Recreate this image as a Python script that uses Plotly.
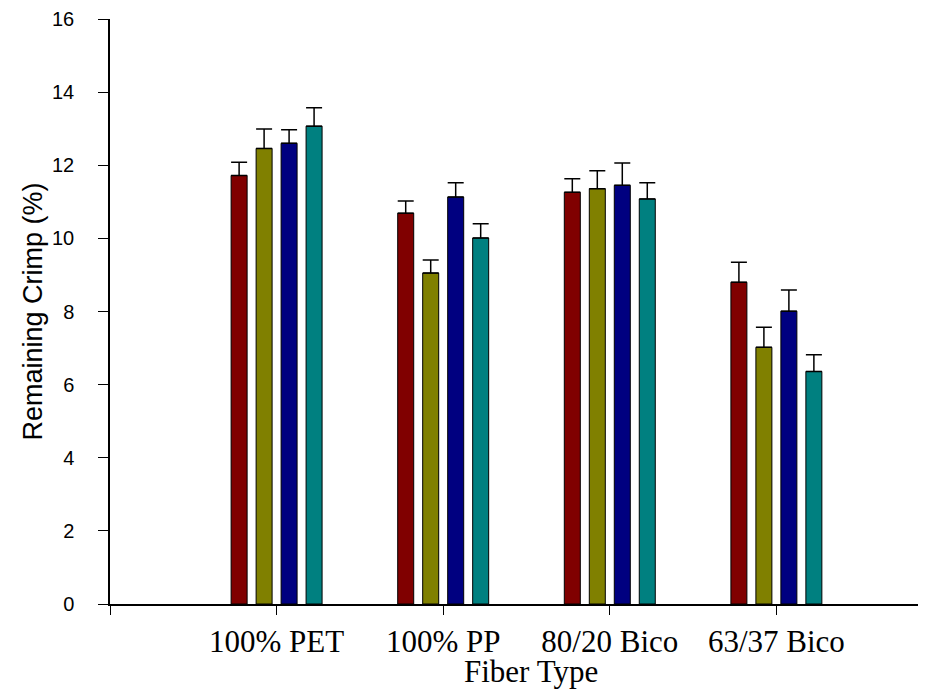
import plotly.graph_objects as go

categories = ["100% PET", "100% PP", "80/20 Bico", "63/37 Bico"]
cat_pos = [1, 2, 3, 4]
tick_vals = [0, 1, 2, 3, 4]
tick_text = ["", "100% PET", "100% PP", "80/20 Bico", "63/37 Bico"]

series_names = ["Series 1", "Series 2", "Series 3", "Series 4"]
s1 = [11.72, 10.69, 11.26, 8.80]
s2 = [12.46, 9.05, 11.36, 7.02]
s3 = [12.60, 11.13, 11.45, 8.01]
s4 = [13.07, 10.01, 11.08, 6.36]
e1 = [0.36, 0.33, 0.37, 0.55]
e2 = [0.53, 0.36, 0.49, 0.55]
e3 = [0.37, 0.39, 0.61, 0.58]
e4 = [0.50, 0.39, 0.44, 0.46]
colors = ["#800000", "#808000", "#000080", "#008080"]

fig = go.Figure()
for name, vals, errs, col in zip(series_names, [s1, s2, s3, s4], [e1, e2, e3, e4], colors):
    fig.add_trace(go.Bar(
        x=cat_pos, y=vals, name=name,
        marker=dict(color=col, line=dict(color="black", width=1)),
        error_y=dict(type="data", array=errs, symmetric=False, arrayminus=[0]*len(errs),
                     color="black", thickness=1.5, width=8),
    ))

fig.update_layout(
    width=926, height=686,
    margin=dict(l=102, r=16, t=11, b=90),
    plot_bgcolor="white", paper_bgcolor="white",
    barmode="group", bargap=0.4, bargroupgap=0.36,
    showlegend=False,
    font=dict(family="Liberation Sans, Arial", color="black"),
    xaxis=dict(
        range=[0, 4.85], tickmode="array", tickvals=tick_vals, ticktext=tick_text,
        ticks="outside", ticklen=9, tickwidth=1, tickcolor="black",
        showline=True, linecolor="black", linewidth=1.5,
        showgrid=False, zeroline=False, automargin=False,
        tickfont=dict(family="Liberation Serif, Times New Roman", size=31, color="black"),
    ),
    yaxis=dict(
        range=[0, 16], tickmode="linear", tick0=0, dtick=2,
        ticks="outside", ticklen=10, tickwidth=1, tickcolor="black",
        showline=True, linecolor="black", linewidth=1.5,
        showgrid=False, zeroline=False, automargin=False,
        tickfont=dict(family="Liberation Sans, Arial", size=20, color="black"),
        ticklabelstandoff=20,
        title=dict(text="Remaining Crimp (%)", font=dict(family="Liberation Sans, Arial", size=27, color="black"), standoff=2),
    ),
    annotations=[dict(
        text="Fiber Type", xref="paper", yref="paper", x=0.521, y=-0.115,
        xanchor="center", yanchor="middle", showarrow=False,
        font=dict(family="Liberation Serif, Times New Roman", size=31, color="black"),
    )],
)

fig.write_html("out.html")
